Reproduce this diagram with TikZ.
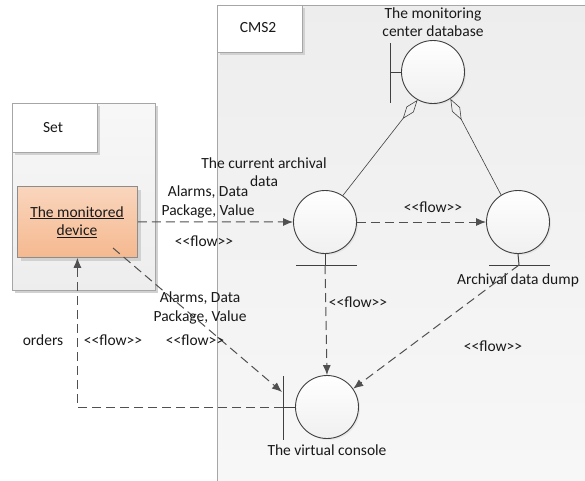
\documentclass[tikz,border=0pt]{standalone}
\usepackage{fontspec}
\setmainfont{Carlito}
\usetikzlibrary{arrows.meta,shadings,shadows}
\definecolor{framec}{HTML}{A6A6A6}
\definecolor{linec}{HTML}{404040}
\definecolor{dashc}{HTML}{505050}
\definecolor{devfill}{HTML}{F8CBAD}
\definecolor{devfillb}{HTML}{F4B183}
\tikzset{
  txt/.style={font=\fontsize{15.5}{18.5}\selectfont, text=black!90, inner sep=0pt, align=center},
  framebox/.style={draw=framec, line width=0.9pt},
  labelbox/.style={draw=framec, line width=0.9pt, fill=white},
  shad/.style={fill=black!18, draw=none},
  ball/.style={circle, draw=linec, line width=0.9pt, minimum size=63pt, inner sep=0pt, top color=white, bottom color=black!6, drop shadow={shadow xshift=1.5pt, shadow yshift=-1.5pt, fill=black!15}},
  bar/.style={draw=linec, line width=1pt},
  flow/.style={draw=dashc, line width=1pt, dash pattern=on 9pt off 5pt, -{Latex[length=10pt,width=8pt]}},
  aggr/.style={draw=linec, line width=0.6pt, -{Diamond[open,length=24pt,width=9pt]}}
}
\begin{document}
\begin{tikzpicture}[x=1pt,y=-1pt]
\useasboundingbox (0,0) rectangle (585,480);
\fill[white] (0,0) rectangle (585,480);
% CMS2 frame
\shade[top color=black!7, bottom color=black!3] (217,5) rectangle (590,490);
\draw[framebox] (590,5) -- (217,5) -- (217,490);
\fill[shad] (220,8) rectangle (305,55);
\node[labelbox, minimum width=85pt, minimum height=47pt, anchor=north west] (cmslab) at (217,5) {};
\node[txt] (cmstxt) at (258,28) {CMS2};
% Set frame
\fill[shad] (15,106) rectangle (158,293);
\shade[top color=black!3, bottom color=black!7, draw=framec, line width=0.9pt] (12,103) rectangle (155,290);
\fill[shad] (15,106) rectangle (100,155);
\node[labelbox, minimum width=85pt, minimum height=49pt, anchor=north west] (setlab) at (12,103) {};
\node[txt] (settxt) at (53,128) {Set};
% monitored device
\fill[shad] (21,190) rectangle (141,261);
\node[draw=black!45, line width=0.8pt, top color=devfill!80!white, bottom color=devfillb!90, minimum width=120pt, minimum height=71pt, anchor=north west] (dev) at (17,186) {};
\node[txt] (devtxt) at (77,222) {\underline{The monitored}\\\underline{device}};
% balls
\node[ball] (db) at (433,72) {};
\node[ball] (cur) at (325,222) {};
\node[ball] (dump) at (518,222) {};
\node[ball] (vc) at (327,407) {};
% boundary bars
\coordinate (dbbar) at (390,72);
\draw[bar] (390,43) -- (390,103);
\draw[bar] (dbbar) -- (db.west);
\coordinate (vcbar) at (283,407);
\draw[bar] (283,376) -- (283,440);
\draw[bar] (vcbar) -- (vc.west);
% entity bars
\coordinate (curbar) at (325,265);
\draw[bar] (296,265) -- (357,265);
\draw[bar] (cur.south) -- (curbar);
\coordinate (dumpbar) at (519,265);
\draw[bar] (489,265) -- (550,265);
\draw[bar] (dump.south) -- (dumpbar);
% labels of balls
\node[txt] (dbtxt) at (433,22) {The monitoring\\center database};
\node[txt] (curtxt) at (264,172) {The current archival\\data};
\node[txt] (dumptxt) at (518,280) {Archival data dump};
\node[txt] (vctxt) at (327,450) {The virtual console};
% aggregation lines
\draw[aggr] (cur.56) -- (db.241);
\draw[aggr] (dump.122) -- (db.303);
% flows
\draw[flow] (dev) -- (cur);
\node[txt] (l1) at (208,202) {Alarms, Data\\Package, Value};
\node[txt] (l1f) at (204,241) {<{}<flow>{}>};
\draw[flow] (cur) -- (dump);
\node[txt] (l2f) at (433,207) {<{}<flow>{}>};
\draw[flow] (curbar) -- (vc.north);
\node[txt] (l3f) at (358,302) {<{}<flow>{}>};
\draw[flow] (dumpbar) -- (vc.35);
\node[txt] (l4f) at (493,346) {<{}<flow>{}>};
\coordinate (devout) at (113,248);
\coordinate (vcbarin) at (282,392);
\draw[flow] (devout) -- (vcbarin);
\node[txt] (l5) at (200,308) {Alarms, Data\\Package, Value};
\node[txt] (l5f) at (195,340) {<{}<flow>{}>};
\draw[flow] (vcbar) -| (dev.south);
\node[txt] (l6) at (43,340) {orders};
\node[txt] (l6f) at (113,340) {<{}<flow>{}>};
\end{tikzpicture}
\end{document}
